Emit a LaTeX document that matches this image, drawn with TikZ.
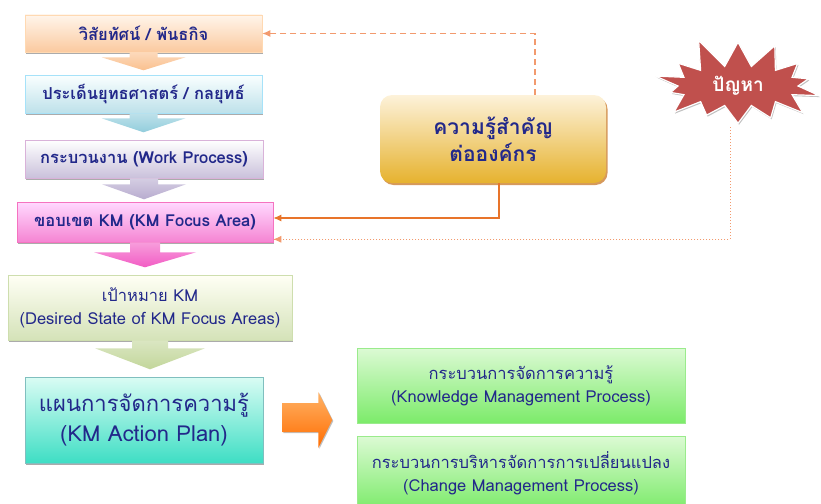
\documentclass[tikz,border=0pt]{standalone}
\usepackage{fontspec}
\setmainfont[Script=Thai]{Loma}
\usetikzlibrary{arrows.meta,calc,shadows,shapes.symbols}
\definecolor{inkblue}{HTML}{22288A}
\definecolor{lineorange}{HTML}{E8742A}
\definecolor{linepeach}{HTML}{F29A6E}
\definecolor{starred}{HTML}{C0504D}
\definecolor{visionarrow}{HTML}{FAC08E}
\definecolor{strategyarrow}{HTML}{92CDDC}
\definecolor{workarrow}{HTML}{B8ACCF}
\definecolor{focusarrow}{HTML}{F25CC4}
\definecolor{goalarrow}{HTML}{C2D69A}
\definecolor{plantop}{HTML}{DAFCF4}
\definecolor{planbottom}{HTML}{3EDEC4}
\definecolor{keytop}{HTML}{FDF2DA}
\definecolor{keybottom}{HTML}{E6B22E}
\definecolor{proctop}{HTML}{DCFAD4}
\definecolor{procbottom}{HTML}{7CEB6A}
\definecolor{procline}{HTML}{9AEB8C}
\begin{document}
\begin{tikzpicture}[x=1pt,y=-1pt,
    stagebox/.style={draw=#1, line width=0.6pt, text=inkblue, align=center,
        inner sep=2pt, drop shadow={shadow xshift=1.2pt, shadow yshift=-1.6pt, fill=gray!80!black, opacity=0.55}},
    greenbox/.style={draw=procline, line width=0.8pt, top color=proctop, bottom color=procbottom,
        text=inkblue, align=center, minimum width=328pt, font=\fontsize{16.5}{23}\selectfont},
    feedarrow/.style={-{Latex[length=8pt,width=7pt]}, line width=1.1pt}]
    \useasboundingbox (0,0) rectangle (821,503);

    % Main stages
    \node[stagebox=orange!30, top color=orange!8, bottom color=visionarrow!85,
        minimum width=237pt, minimum height=37pt, font=\bfseries\fontsize{16.5}{18}\selectfont]
        (vision) at (143.5,33.5) {วิสัยทัศน์ / พันธกิจ};
    \node[stagebox=cyan!35, top color=cyan!2, bottom color=strategyarrow!60,
        minimum width=237pt, minimum height=38pt, font=\bfseries\fontsize{16.5}{18}\selectfont]
        (strategy) at (143.5,94) {ประเด็นยุทธศาสตร์ / กลยุทธ์};
    \node[stagebox=violet!30, top color=white, bottom color=workarrow!75,
        minimum width=238pt, minimum height=38pt, font=\bfseries\fontsize{16.5}{18}\selectfont]
        (work) at (144,159) {กระบวนงาน (Work Process)};
    \node[stagebox=magenta!55, top color=magenta!15, bottom color=focusarrow!75,
        minimum width=256pt, minimum height=40pt, font=\bfseries\fontsize{16.5}{18}\selectfont]
        (focus) at (145,222) {ขอบเขต KM (KM Focus Area)};
    \node[stagebox=goalarrow!80, top color=yellow!4, bottom color=goalarrow!70,
        minimum width=284pt, minimum height=65pt, font=\fontsize{16.5}{23}\selectfont]
        (goal) at (150,307.5) {เป้าหมาย KM\\(Desired State of KM Focus Areas)};
    \node[stagebox=teal!50, top color=plantop, bottom color=planbottom,
        minimum width=238pt, minimum height=86pt, font=\fontsize{22}{30}\selectfont]
        (plan) at (144,420) {แผนการจัดการความรู้\\(KM Action Plan)};

    % Block arrows between stages
    \foreach \n/\b/\h/\s/\l in {vision/14/42/5/18, strategy/14/42/5/19,
        work/14/42/6/21, focus/15/51/10/25, goal/18/55/8/29}
        \shade[top color=\n arrow!60, bottom color=\n arrow]
            ($(\n.south)+(-\b,0)$) -- ++(0,\s) -- ($(\n.south)+(-\h,\s)$) -- ($(\n.south)+(0,\l)$)
            -- ($(\n.south)+(\h,\s)$) -- ($(\n.south)+(\b,\s)$) -- ($(\n.south)+(\b,0)$) -- cycle;

    % Key knowledge and problem
    \node[rounded corners=12pt, minimum width=226pt, minimum height=88pt, top color=keytop,
        bottom color=keybottom, text=inkblue, align=center,
        font=\bfseries\fontsize{21}{27}\selectfont,
        drop shadow={shadow xshift=1.5pt, shadow yshift=-2pt, fill=brown!80!orange, opacity=0.8}]
        (key) at (493,139) {ความรู้สำคัญ\\ต่อองค์กร};
    \draw[linepeach, dotted, line width=1pt] (730,127) |- ([yshift=3pt]focus.south east) coordinate (dotend);
    \node[starburst, random starburst=11, starburst points=14, starburst point height=32pt,
        minimum width=184pt, minimum height=104pt, fill=starred, draw=white, line width=1.2pt,
        drop shadow={shadow xshift=1pt, shadow yshift=-1.5pt, fill=gray!70, opacity=0.7},
        text=white, font=\bfseries\fontsize{19}{20}\selectfont]
        (problem) at (738,86) {ปัญหา};

    % Feedback connectors
    \draw[feedarrow, linepeach, dashed, dash pattern=on 6pt off 4pt] ([xshift=42pt]key.north) |- (vision.east);
    \draw[feedarrow, lineorange] ([xshift=6pt]key.south) |- ([yshift=4pt]focus.east);
    \draw[-{Latex[length=8pt,width=7pt]}, linepeach, line width=0.9pt] ([xshift=6pt]dotend) -- (dotend);

    % Processes
    \shade[top color=orange!60, bottom color=orange!85!red, drop shadow={shadow xshift=1pt, shadow yshift=-1pt, fill=gray, opacity=0.5}]
        ($(plan.east)+(19,-17)$) -- ++(36,0) -- ++(0,-11) -- ($(plan.east)+(69,0)$)
        -- ($(plan.east)+(55,28)$) -- ++(0,-16) -- ++(-36,0) -- cycle;
    \node[greenbox, minimum height=75pt] (kmp) at (521,385.5) {กระบวนการจัดการความรู้\\(Knowledge Management Process)};
    \node[greenbox, minimum height=74pt] (cmp) at (521,473) {กระบวนการบริหารจัดการการเปลี่ยนแปลง\\(Change Management Process)};
\end{tikzpicture}
\end{document}
